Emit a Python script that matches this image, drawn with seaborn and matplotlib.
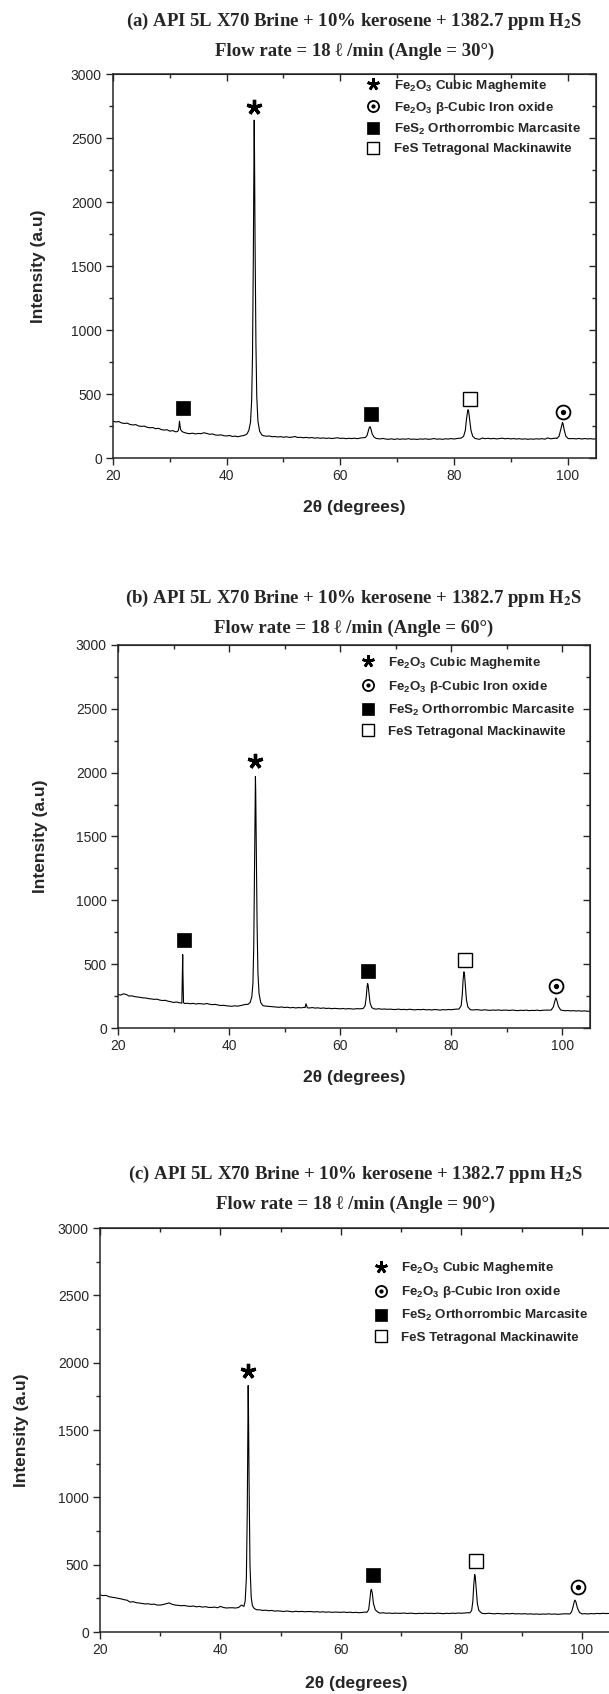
import numpy as np
import matplotlib
matplotlib.use('Agg')
import matplotlib.pyplot as plt
from matplotlib.lines import Line2D
from matplotlib.legend_handler import HandlerTuple
from matplotlib.ticker import MultipleLocator
import seaborn as sns

sns.set_style('ticks')
plt.rcParams['font.family'] = ['Liberation Sans', 'DejaVu Sans']
plt.rcParams['mathtext.fontset'] = 'custom'
plt.rcParams['mathtext.rm'] = 'Liberation Sans'
plt.rcParams['mathtext.bf'] = 'Liberation Sans:bold'

# XRD scan grid (2theta, step 0.5 deg)
scan_2theta = np.arange(20, 105.01, 0.5)

# background intensity, one value per grid step
base_a = [288, 281, 285, 274, 270, 272, 262, 258, 261, 250,
          247, 249, 240, 236, 238, 229, 232, 222, 218, 221,
          210, 214, 205, 206, 203, 200, 193, 190, 194, 188,
          192, 190, 197, 192, 185, 188, 180, 178, 181, 174,
          172, 176, 168, 171, 166, 172, 175, 185, 190, 200,
          200, 190, 180, 174, 170, 172, 166, 168, 164, 167,
          162, 166, 161, 163, 168, 160, 162, 158, 161, 157,
          160, 155, 158, 154, 157, 153, 156, 152, 155, 158,
          153, 155, 151, 154, 152, 155, 151, 156, 158, 160,
          160, 158, 152, 152, 149, 153, 148, 146, 150, 145,
          150, 146, 149, 147, 151, 146, 148, 145, 149, 147,
          150, 146, 148, 152, 147, 149, 146, 150, 148, 152,
          148, 152, 155, 156, 155, 154, 152, 150, 150, 146,
          156, 151, 154, 150, 153, 149, 152, 155, 150, 153,
          149, 152, 148, 151, 147, 150, 146, 149, 147, 150,
          148, 151, 147, 157, 150, 153, 155, 155, 155, 155,
          154, 151, 152, 149, 153, 148, 152, 149, 151, 148,
          150]
base_b = [262, 258, 268, 262, 250, 252, 246, 243, 240, 236,
          235, 230, 228, 224, 226, 219, 215, 217, 210, 206,
          200, 204, 198, 196, 192, 194, 190, 193, 188, 191,
          190, 187, 192, 186, 183, 185, 180, 176, 178, 174,
          172, 170, 174, 171, 175, 180, 185, 195, 200, 200,
          200, 185, 175, 172, 170, 168, 166, 164, 162, 165,
          160, 163, 158, 161, 157, 160, 158, 162, 160, 157,
          160, 156, 158, 154, 157, 153, 155, 151, 154, 152,
          150, 153, 149, 152, 150, 148, 152, 150, 152, 155,
          155, 155, 150, 148, 151, 147, 149, 146, 148, 145,
          145, 148, 144, 146, 143, 147, 144, 142, 145, 143,
          146, 142, 144, 141, 145, 143, 140, 144, 142, 145,
          143, 146, 148, 148, 148, 148, 146, 143, 141, 144,
          142, 139, 143, 140, 138, 141, 139, 142, 138, 140,
          140, 137, 141, 138, 136, 139, 137, 140, 136, 138,
          137, 140, 136, 139, 140, 140, 140, 140, 140, 140,
          138, 135, 137, 134, 136, 133, 135, 132, 134, 131,
          132]
base_c = [276, 270, 272, 262, 258, 255, 250, 246, 240, 236,
          222, 225, 218, 215, 212, 208, 210, 205, 207, 200,
          200, 204, 210, 216, 205, 200, 198, 195, 197, 192,
          190, 193, 187, 190, 185, 188, 183, 182, 185, 180,
          190, 182, 178, 180, 180, 178, 182, 200, 185, 190,
          190, 175, 162, 165, 160, 162, 158, 160, 155, 157,
          155, 152, 156, 153, 150, 154, 151, 153, 150, 152,
          152, 149, 151, 148, 150, 147, 149, 146, 148, 147,
          146, 148, 145, 147, 144, 146, 143, 145, 148, 150,
          150, 148, 142, 140, 143, 139, 141, 138, 140, 139,
          139, 141, 137, 140, 138, 136, 139, 137, 140, 138,
          139, 137, 140, 138, 136, 139, 137, 140, 138, 141,
          139, 141, 143, 143, 143, 143, 140, 138, 136, 139,
          137, 135, 138, 136, 134, 137, 135, 138, 134, 136,
          134, 136, 133, 135, 132, 134, 131, 134, 132, 135,
          132, 134, 131, 133, 135, 135, 135, 135, 135, 135,
          133, 136, 134, 137, 135, 138, 136, 139, 137, 138,
          138]

# diffraction peaks (points read around each reflection)
peaks_a_x = [[31.3, 31.5, 31.6, 31.7, 31.8, 31.9, 32.1, 32.3],
             [43.6, 43.9, 44.2, 44.4, 44.55, 44.7, 44.8, 44.85, 44.9, 45.0, 45.15, 45.3, 45.5, 45.8, 46.2],
             [64.4, 64.7, 64.9, 65.1, 65.25, 65.4, 65.6, 65.9, 66.3],
             [81.3, 81.7, 82.0, 82.2, 82.4, 82.5, 82.6, 82.8, 83.0, 83.3, 83.7],
             [98.1, 98.5, 98.8, 99.0, 99.1, 99.2, 99.4, 99.7, 100.1]]
peaks_a_y = [[206, 215, 240, 288, 250, 222, 210, 203],
             [190, 215, 280, 450, 800, 1600, 2300, 2640, 2400, 1700, 900, 480, 290, 210, 180],
             [160, 175, 205, 238, 245, 225, 190, 165, 153],
             [156, 170, 215, 300, 365, 377, 360, 290, 215, 170, 153],
             [152, 170, 225, 265, 277, 268, 220, 170, 152]]

peaks_b_x = [[31.5, 31.6, 31.65, 31.7, 31.8],
             [43.4, 43.8, 44.1, 44.3, 44.45, 44.6, 44.7, 44.75, 44.8, 44.9, 45.05, 45.2, 45.4, 45.7, 46.1],
             [53.7, 53.85, 53.95, 54.1],
             [64.2, 64.5, 64.7, 64.85, 64.95, 65.05, 65.2, 65.4, 65.7, 66.1],
             [81.4, 81.8, 82.0, 82.15, 82.3, 82.4, 82.55, 82.75, 83.0, 83.4],
             [98.0, 98.4, 98.7, 98.85, 99.0, 99.3, 99.7]]
peaks_b_y = [[195, 450, 575, 420, 198],
             [185, 200, 245, 350, 650, 1300, 1800, 1970, 1850, 1400, 800, 430, 270, 200, 175],
             [160, 190, 178, 158],
             [155, 175, 240, 320, 348, 335, 270, 195, 160, 150],
             [148, 175, 260, 380, 440, 420, 330, 220, 165, 146],
             [140, 165, 215, 236, 220, 170, 142]]

peaks_c_x = [[43.9, 44.1, 44.3, 44.45, 44.55, 44.6, 44.65, 44.75, 44.9, 45.1, 45.3, 45.6, 46.0],
             [64.3, 64.6, 64.8, 64.95, 65.05, 65.2, 65.4, 65.7, 66.1],
             [81.4, 81.7, 81.9, 82.05, 82.2, 82.3, 82.45, 82.65, 82.9, 83.3],
             [98.0, 98.3, 98.55, 98.75, 98.85, 99.0, 99.25, 99.6, 100.0]]
peaks_c_y = [[190, 230, 400, 900, 1500, 1830, 1650, 1100, 500, 260, 195, 175, 165],
             [146, 165, 240, 305, 317, 290, 210, 165, 148],
             [142, 160, 230, 350, 427, 410, 320, 210, 160, 142],
             [134, 150, 190, 228, 237, 225, 180, 145, 135]]

# phase labels above peaks
tags_a_kind = ['fes2', 'maghemite', 'fes2', 'mackinawite', 'beta']
tags_a_x = [32.3, 44.85, 65.4, 82.8, 99.2]
tags_a_y = [387, 2745, 341, 459, 356]
tags_b_kind = ['fes2', 'maghemite', 'fes2', 'mackinawite', 'beta']
tags_b_x = [31.8, 44.7, 65.0, 82.5, 98.8]
tags_b_y = [688, 2094, 445, 531, 327]
tags_c_kind = ['maghemite', 'fes2', 'mackinawite', 'beta']
tags_c_x = [44.6, 65.3, 82.4, 99.3]
tags_c_y = [1940, 420, 529, 334]

phase_kinds = ['maghemite', 'beta', 'fes2', 'mackinawite']
phase_labels = [r'Fe$_\mathbf{2}$O$_\mathbf{3}$ Cubic Maghemite',
                r'Fe$_\mathbf{2}$O$_\mathbf{3}$ β-Cubic Iron oxide',
                r'FeS$_\mathbf{2}$ Orthorrombic Marcasite',
                'FeS Tetragonal Mackinawite']
angles = [30, 60, 90]
panel_letters = ['a', 'b', 'c']


def pattern(base, px, py):
    keep = np.ones(len(scan_2theta), bool)
    for xs in px:
        keep &= ~((scan_2theta >= min(xs)) & (scan_2theta <= max(xs)))
    x = np.concatenate([scan_2theta[keep]] + [np.array(v) for v in px])
    y = np.concatenate([np.array(base)[keep]] + [np.array(v) for v in py])
    order = np.argsort(x)
    return x[order], y[order]


def marker_style(kind, big=True):
    s = 1.0 if big else 0.8
    if kind == 'maghemite':
        return [dict(marker=(5, 2, 0), ms=11 * s, mew=2.4 * s, color='black')]
    if kind == 'beta':
        return [dict(marker='o', ms=10 * s, mfc='white', mec='black', mew=1.3),
                dict(marker='o', ms=3.8 * s, mfc='black', mec='black', mew=0)]
    if kind == 'fes2':
        return [dict(marker='s', ms=10 * s, mfc='black', mec='black', mew=0.5)]
    return [dict(marker='s', ms=10 * s, mfc='white', mec='black', mew=1.0)]


W, H = 609, 1694
fig = plt.figure(figsize=(W / 100, H / 100), dpi=100)

# axes boxes in pixels: left, right, top, bottom (panel c runs off the right edge)
boxes = [(113, 596, 74, 458), (118, 590, 645, 1028), (100, 612, 1228, 1632)]
title_rows = [(21, 51), (598, 628), (1174, 1204)]
xlabel_rows = [507, 1077, 1683]
ylabel_cols = [38, 40, 22]
legend_anchor = [(0.525, 0.99), (0.515, 0.975), (0.535, 0.92)]
legend_spacing = [0.45, 0.6, 0.6]

bases = [base_a, base_b, base_c]
peaks_x = [peaks_a_x, peaks_b_x, peaks_c_x]
peaks_y = [peaks_a_y, peaks_b_y, peaks_c_y]
tags = [(tags_a_kind, tags_a_x, tags_a_y), (tags_b_kind, tags_b_x, tags_b_y),
        (tags_c_kind, tags_c_x, tags_c_y)]

for i in range(3):
    L, R, T, B = boxes[i]
    ax = fig.add_axes([L / W, 1 - B / H, (R - L) / W, (B - T) / H])
    x, y = pattern(bases[i], peaks_x[i], peaks_y[i])
    sns.lineplot(x=x, y=y, ax=ax, color='black', linewidth=0.8, estimator=None, sort=False)

    kinds, tx, ty = tags[i]
    for k, xx, yy in zip(kinds, tx, ty):
        for st in marker_style(k):
            ax.plot([xx], [yy], linestyle='none', **st)

    ax.set_xlim(20, 105)
    ax.set_ylim(0, 3000)
    ax.xaxis.set_major_locator(MultipleLocator(20))
    ax.xaxis.set_minor_locator(MultipleLocator(10))
    ax.yaxis.set_major_locator(MultipleLocator(500))
    ax.yaxis.set_minor_locator(MultipleLocator(250))
    ax.tick_params(which='major', direction='out', length=5, width=1, labelsize=10, pad=3)
    ax.tick_params(which='minor', direction='out', length=3, width=1)
    for sp in ax.spines.values():
        sp.set_linewidth(1.1)
    ax.set_xlabel('')
    ax.set_ylabel('')

    top = ax.secondary_xaxis('top')
    top.xaxis.set_major_locator(MultipleLocator(20))
    top.xaxis.set_minor_locator(MultipleLocator(10))
    top.tick_params(which='both', direction='in', labeltop=False, width=1)
    top.tick_params(which='major', length=5)
    top.tick_params(which='minor', length=3)
    if i < 2:
        right = ax.secondary_yaxis('right')
        right.yaxis.set_major_locator(MultipleLocator(500))
        right.yaxis.set_minor_locator(MultipleLocator(250))
        right.tick_params(which='both', direction='in', labelright=False, width=1)
        right.tick_params(which='major', length=5)
        right.tick_params(which='minor', length=3)

    handles = []
    for k in phase_kinds:
        parts = tuple(Line2D([], [], linestyle='none', **st) for st in marker_style(k, big=False))
        handles.append(parts)
    ax.legend(handles, phase_labels, handler_map={tuple: HandlerTuple(ndivide=1, pad=0)},
              loc='upper left', bbox_to_anchor=legend_anchor[i], frameon=False,
              prop={'weight': 'bold', 'size': 9.6}, handlelength=1.0, handletextpad=1.05,
              labelspacing=legend_spacing[i], borderpad=0, borderaxespad=0)

    cx = (L + R) / 2 / W
    fig.text(cx, 1 - title_rows[i][0] / H,
             '(%s) API 5L X70 Brine + 10%% kerosene + 1382.7 ppm H$_\\mathbf{2}$S' % panel_letters[i],
             ha='center', va='center', fontsize=13.5, fontweight='bold',
             family=['Liberation Serif', 'DejaVu Serif'], math_fontfamily='stix')
    fig.text(cx, 1 - title_rows[i][1] / H,
             'Flow rate = 18 ℓ /min (Angle = %d°)' % angles[i],
             ha='center', va='center', fontsize=13.5, fontweight='bold',
             family=['Liberation Serif', 'DejaVu Serif'])
    fig.text(cx, 1 - xlabel_rows[i] / H, '2θ (degrees)', ha='center', va='center',
             fontsize=12.5, fontweight='bold')
    fig.text(ylabel_cols[i] / W, 1 - (T + B) / 2 / H, 'Intensity (a.u)', rotation=90,
             ha='center', va='center', fontsize=12.5, fontweight='bold')

fig.savefig('out.png', dpi=100, facecolor='white')
